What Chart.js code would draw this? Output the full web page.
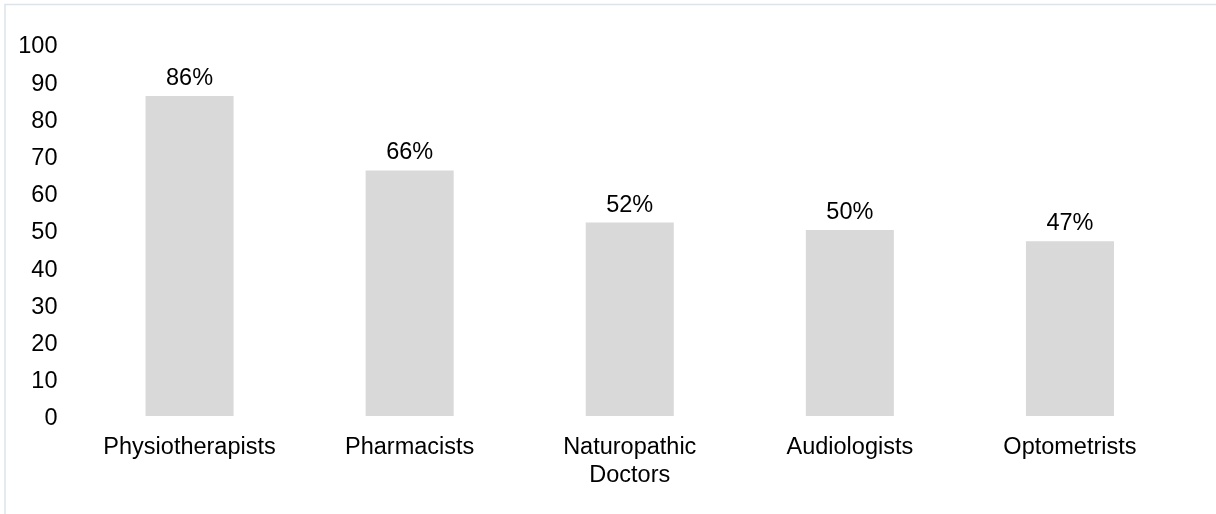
<!DOCTYPE html>
<html>
<head>
<meta charset="utf-8">
<script src="https://cdn.jsdelivr.net/npm/chart.js@4.4.1/dist/chart.umd.min.js"></script>
<style>
  html, body { margin: 0; padding: 0; background: #ffffff; overflow: hidden; }
  #wrap { position: relative; width: 1216px; height: 514px; }
</style>
</head>
<body>
<div id="wrap"><canvas id="chart" width="1216" height="514"></canvas></div>
<script>
// Share of each profession, in percent
const categories = ['Physiotherapists', 'Pharmacists', ['Naturopathic', 'Doctors'], 'Audiologists', 'Optometrists'];
const shares = [86, 66, 52, 50, 47];
const yTicks = [0, 10, 20, 30, 40, 50, 60, 70, 80, 90, 100];

const FONT = { family: '"Liberation Sans", Arial, sans-serif', size: 23.5 };
const TEXT = '#000000';

// White background plus the thin frame along the top and left edges
const framePlugin = {
  id: 'frame',
  beforeDraw(chart) {
    const ctx = chart.ctx;
    ctx.save();
    ctx.fillStyle = '#ffffff';
    ctx.fillRect(0, 0, chart.width, chart.height);
    ctx.strokeStyle = '#dde3ea';
    ctx.lineWidth = 1.5;
    ctx.beginPath();
    ctx.moveTo(5, chart.height);
    ctx.lineTo(5, 4.5);
    ctx.lineTo(chart.width, 4.5);
    ctx.stroke();
    ctx.restore();
  }
};

// Percentage label above every bar
const valueLabels = {
  id: 'valueLabels',
  afterDatasetsDraw(chart) {
    const ctx = chart.ctx;
    const meta = chart.getDatasetMeta(0);
    const data = chart.data.datasets[0].data;
    ctx.save();
    ctx.font = `${FONT.size}px ${FONT.family}`;
    ctx.fillStyle = TEXT;
    ctx.textAlign = 'center';
    ctx.textBaseline = 'alphabetic';
    meta.data.forEach((bar, i) => {
      ctx.fillText(data[i] + '%', bar.x, bar.y - 11);
    });
    ctx.restore();
  }
};

new Chart(document.getElementById('chart'), {
  type: 'bar',
  data: {
    labels: categories,
    datasets: [{
      data: shares,
      backgroundColor: '#d9d9d9',
      borderWidth: 0,
      categoryPercentage: 1,
      barPercentage: 0.4
    }]
  },
  options: {
    responsive: false,
    animation: false,
    devicePixelRatio: 1,
    layout: { padding: { left: 0, top: 44, right: 36, bottom: 0 } },
    plugins: {
      legend: { display: false },
      tooltip: { enabled: false }
    },
    scales: {
      x: {
        grid: { display: false },
        border: { display: false },
        ticks: {
          color: TEXT,
          font: FONT,
          padding: 9,
          autoSkip: false,
          maxRotation: 0,
          minRotation: 0
        },
        afterFit(scale) { scale.height = 98; }
      },
      y: {
        min: 0,
        max: 100,
        grid: { display: false },
        border: { display: false },
        afterBuildTicks(scale) { scale.ticks = yTicks.map(v => ({ value: v })); },
        ticks: {
          color: TEXT,
          font: FONT,
          padding: 14,
          labelOffset: 3
        },
        afterFit(scale) { scale.width = 79.5; }
      }
    }
  },
  plugins: [framePlugin, valueLabels]
});
</script>
</body>
</html>
